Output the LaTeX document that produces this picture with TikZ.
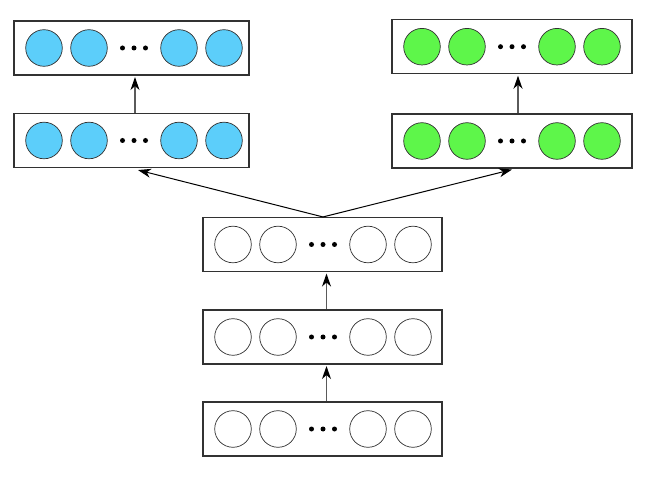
\documentclass[tikz,border=0pt]{standalone}
\usetikzlibrary{arrows.meta}
\definecolor{bluefill}{RGB}{92,206,250}
\definecolor{greenfill}{RGB}{94,246,74}
\definecolor{edgegray}{RGB}{50,50,50}
\definecolor{arrgray}{RGB}{90,90,90}
\tikzset{
  layerbox/.style={draw=edgegray, line width=1.1pt, fill=white, rectangle, inner sep=0pt, minimum height=54pt},
  unit/.style={draw=edgegray, line width=0.7pt, circle, inner sep=0pt, minimum size=36.6pt},
  dotnode/.style={fill=black, circle, inner sep=0pt, minimum size=5pt},
  arr/.style={-{Stealth[length=13pt,width=9pt,inset=4pt,color=black]}, line width=1pt},
  varr/.style={arr, draw=arrgray, line width=1.2pt},
}
% #1 name, #2 box center x, #3 center y, #4 box width, #5 circle center x, #6 fill
\newcommand{\mylayer}[6]{%
  \node[layerbox, minimum width=#4pt] (#1) at (#2,#3) {};
  \node[unit, fill=#6] (#1c1) at (#5-90,#3) {};
  \node[unit, fill=#6] (#1c2) at (#5-45,#3) {};
  \node[dotnode] (#1d1) at (#5-11.5,#3) {};
  \node[dotnode] (#1d2) at (#5,#3) {};
  \node[dotnode] (#1d3) at (#5+11.5,#3) {};
  \node[unit, fill=#6] (#1c3) at (#5+45,#3) {};
  \node[unit, fill=#6] (#1c4) at (#5+90,#3) {};
}
\begin{document}
\begin{tikzpicture}[x=1pt,y=-1pt]
\useasboundingbox (0,0) rectangle (651,478);
% blue
\mylayer{btop}{131.5}{48}{235}{134}{bluefill}
\mylayer{bmid}{131.5}{140.5}{235}{134}{bluefill}
% green
\mylayer{gtop}{512}{46.7}{240}{512}{greenfill}
\mylayer{gmid}{512}{141}{240}{512}{greenfill}
% white stack
\mylayer{wtop}{322.5}{244.5}{239}{323}{white}
\mylayer{wmid}{322.5}{337}{239}{323}{white}
\mylayer{wbot}{322.5}{429}{239}{323}{white}
% vertical arrows
\draw[varr] ([xshift=4pt]wbot.north) -- ([xshift=4pt,yshift=-1.5pt]wmid.south);
\draw[varr] ([xshift=4pt]wmid.north) -- ([xshift=4pt,yshift=-1.5pt]wtop.south);
\draw[varr] ([xshift=3.5pt]bmid.north) -- ([xshift=3.5pt,yshift=-1.5pt]btop.south);
\draw[varr] ([xshift=6pt]gmid.north) -- ([xshift=6pt,yshift=-1.5pt]gtop.south);
% diagonal arrows
\coordinate (fork) at ([xshift=0.5pt]wtop.north);
\coordinate (bin) at ([xshift=6.5pt,yshift=-2pt]bmid.south);
\coordinate (gin) at ([yshift=-1pt]gmid.south);
\draw[arr] (fork) -- (bin);
\draw[arr] (fork) -- (gin);
\end{tikzpicture}
\end{document}
